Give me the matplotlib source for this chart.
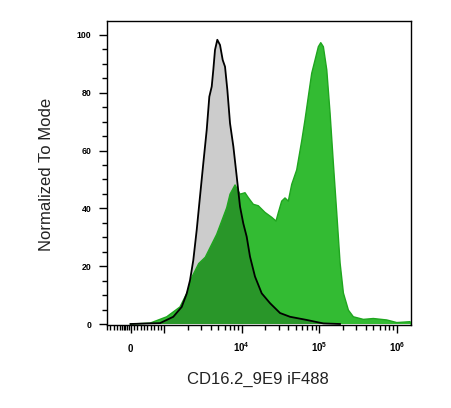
import numpy as np
import matplotlib
matplotlib.use("Agg")
import matplotlib.pyplot as plt

plt.rcParams["font.family"] = ["Liberation Sans", "DejaVu Sans"]
plt.rcParams["mathtext.fontset"] = "custom"
plt.rcParams["mathtext.rm"] = "Liberation Sans:bold"
plt.rcParams["mathtext.bf"] = "Liberation Sans:bold"

# control (unstained) histogram, intensity vs % of mode
ctrl_x = [0, 518, 873, 1306, 1677, 1945, 2146, 2367, 2618, 2888, 3186, 3524, 3808,
          4090, 4289, 4510, 4830, 5234, 5670, 6073, 6507, 7047, 7780, 8599, 9484,
          10450, 11560, 12760, 14800, 18070, 23130, 31120, 41880, 68710, 112700, 184900]
ctrl_y = [0, 0.2, 0.3, 2.5, 5.9, 10.5, 15.1, 22.1, 32.5, 44.1, 55.6, 67.1, 78.6,
          82.1, 87.9, 94.8, 98.3, 96.5, 91.3, 89.0, 81.0, 69.4, 61.4, 51.0, 40.6,
          34.8, 30.2, 23.3, 16.4, 10.6, 7.2, 3.8, 2.5, 1.4, 0.2, 0]

# stained sample histogram
stain_x = [0, 577, 1074, 1594, 2042, 2278, 2779, 3381, 3926, 4742, 5505, 6385, 7047,
           8180, 9484, 11000, 12130, 14070, 16320, 19910, 24320, 27630, 29580, 32710,
           36080, 39820, 44060, 51090, 59250, 65350, 72110, 79770, 88100, 97190,
           104400, 112800, 124800, 137700, 151800, 167900, 185400, 204600, 237300,
           275000, 369900, 497700, 741300, 997700, 1483000, 1520000]
stain_y = [0, 0.3, 2.5, 5.9, 11.7, 16.3, 20.9, 23.1, 26.6, 31.0, 35.6, 40.2, 44.9,
           48.1, 44.9, 45.4, 43.7, 41.4, 40.9, 38.6, 36.9, 35.6, 38.5, 42.5,
           43.6, 42.5, 48.3, 53.3, 63.3, 70.6, 78.6, 86.7, 91.3, 95.9,
           97.3, 95.9, 87.9, 72.9, 55.6, 38.4, 21.1, 10.7, 4.8,
           2.5, 1.6, 1.9, 1.4, 0.5, 0.8, 0]

green = "#33bb33"
green_edge = "#1fa61f"
overlap = "#299629"
gray = "#cccccc"

fig = plt.figure(figsize=(4.51, 4.08), dpi=100)
ax = fig.add_axes([0.2366, 0.2034, 0.6747, 0.7459])
ax.set_xscale("symlog", linthresh=1000, linscale=0.3925)

# fills: stained, control, then the overlap (control clipped to stained)
g_patch = ax.fill(stain_x, stain_y, color=green, lw=0, zorder=1)[0]
ax.fill(ctrl_x, ctrl_y, color=gray, lw=0, zorder=2)
ov = ax.fill(ctrl_x, ctrl_y, color=overlap, lw=0, zorder=3)[0]
ov.set_clip_path(g_patch)

ax.plot(stain_x, stain_y, color=green_edge, lw=1.0, zorder=4)
ax.plot(ctrl_x, ctrl_y, color="black", lw=1.3, zorder=5)

ax.set_xlim(-704, 1524000)
ax.set_ylim(-0.35, 104.9)

# x ticks (biexponential style)
major_x = [0, 1e3, 1e4, 1e5, 1e6]
major_lbl = ["0", "", r"$10^{4}$", r"$10^{5}$", r"$10^{6}$"]
minor_x = [-700, -600, -500, -400, -300, -250, -200, -150, -100, -50,
           100, 200, 300, 400, 500, 600, 700, 800, 900]
for dec in [1e3, 1e4, 1e5]:
    minor_x += [k * dec for k in range(2, 10)]
ax.set_xticks(major_x)
ax.set_xticklabels(major_lbl)
ax.set_xticks(minor_x, minor=True)

ax.set_yticks([0, 20, 40, 60, 80, 100])
ax.set_yticks(np.arange(0, 105, 5), minor=True)

ax.tick_params(which="major", length=6, width=1.0, color="black")
ax.tick_params(which="minor", length=3.5, width=1.0, color="black")
ax.tick_params(axis="y", labelsize=6.3, pad=5)
ax.tick_params(axis="x", labelsize=7, pad=13.5)
for lbl in ax.get_yticklabels():
    lbl.set_fontweight("bold")
for lbl in ax.get_xticklabels():
    lbl.set_fontweight("bold")
    lbl.set_verticalalignment("baseline")

for s in ax.spines.values():
    s.set_linewidth(1.0)
    s.set_color("black")

fig.text(46.7 / 451, 1 - 174 / 408, "Normalized To Mode", rotation=90,
         ha="center", va="center", fontsize=12, color="#222222")
fig.text(258 / 451, 1 - 379 / 408, "CD16.2_9E9 iF488",
         ha="center", va="center", fontsize=12, color="#222222")

fig.savefig("out.png", dpi=100)
